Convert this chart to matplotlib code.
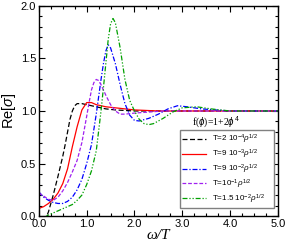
import numpy as np
import matplotlib
matplotlib.use("Agg")
import matplotlib.pyplot as plt
from matplotlib.ticker import MultipleLocator, FormatStrFormatter

plt.rcParams['font.family'] = ['Liberation Sans', 'DejaVu Sans']
plt.rcParams['mathtext.fontset'] = 'custom'
plt.rcParams['mathtext.rm'] = 'Liberation Sans'
plt.rcParams['mathtext.it'] = 'Liberation Sans:italic'

# curves: omega/T vs Re[sigma]
w_black = [0.12, 0.2, 0.3, 0.4, 0.5, 0.55, 0.6, 0.65, 0.7, 0.75, 0.8, 0.9, 1.0, 1.1, 1.2, 1.4, 1.6, 2.0, 3.0, 4.0, 5.0]
s_black = [-0.05, 0.04, 0.2, 0.38, 0.57, 0.68, 0.8, 0.92, 1.0, 1.05, 1.07, 1.07, 1.06, 1.05, 1.04, 1.02, 1.01, 1.0, 1.0, 1.0, 1.0]

w_red = [0, 0.1, 0.2, 0.3, 0.4, 0.5, 0.6, 0.7, 0.8, 0.9, 1.0, 1.1, 1.2, 1.4, 1.6, 2.0, 2.5, 3, 4, 5]
s_red = [0.073, 0.09, 0.12, 0.16, 0.22, 0.31, 0.45, 0.66, 0.85, 1.01, 1.08, 1.08, 1.06, 1.04, 1.03, 1.01, 1.0, 1.0, 1.0, 1.0]

w_blue = [0, 0.1, 0.2, 0.3, 0.4, 0.5, 0.6, 0.7, 0.8, 0.9, 1.0, 1.1, 1.2, 1.3, 1.35, 1.4, 1.45, 1.5, 1.6, 1.7, 1.8,
          1.9, 2.0, 2.1, 2.3, 2.5, 2.7, 2.9, 3.1, 3.4, 4, 5]
s_blue = [0.23, 0.18, 0.15, 0.13, 0.12, 0.12, 0.14, 0.18, 0.25, 0.35, 0.5, 0.68, 0.97, 1.3, 1.45, 1.57, 1.63, 1.6, 1.45,
          1.25, 1.07, 0.96, 0.91, 0.905, 0.93, 0.97, 1.02, 1.05, 1.04, 1.02, 1.0, 1.0]

w_purple = [0, 0.1, 0.2, 0.3, 0.4, 0.5, 0.6, 0.7, 0.8, 0.9, 1.0, 1.05, 1.1, 1.15, 1.2, 1.25, 1.3, 1.4, 1.5, 1.6, 1.7,
            1.8, 2.0, 2.3, 2.6, 3, 4, 5]
s_purple = [0.22, 0.19, 0.16, 0.15, 0.18, 0.24, 0.32, 0.42, 0.53, 0.7, 0.95, 1.08, 1.2, 1.27, 1.30, 1.29, 1.25, 1.15,
            1.06, 1.0, 0.97, 0.97, 0.98, 0.99, 1.0, 1.0, 1.0, 1.0]

w_green = [0.12, 0.2, 0.3, 0.4, 0.5, 0.6, 0.7, 0.8, 0.9, 1.0, 1.1, 1.2, 1.3, 1.35, 1.4, 1.45, 1.5, 1.55, 1.6, 1.7,
           1.8, 1.9, 2.0, 2.1, 2.2, 2.3, 2.4, 2.6, 2.8, 3.0, 3.3, 3.6, 4.0, 5.0]
s_green = [-0.01, 0.01, 0.03, 0.05, 0.07, 0.09, 0.11, 0.15, 0.2, 0.3, 0.43, 0.62, 1.0, 1.22, 1.45, 1.68, 1.83, 1.88,
           1.84, 1.6, 1.3, 1.1, 1.0, 0.92, 0.88, 0.87, 0.88, 0.93, 0.99, 1.03, 1.04, 1.02, 1.0, 1.0]

labels = [r'T=2 10$^{-4}$$\rho^{1/2}$',
          r'T=9 10$^{-3}$$\rho^{1/2}$',
          r'T=9 10$^{-2}$$\rho^{1/2}$',
          r'T=10$^{-1}$$\rho^{1/2}$',
          r'T=1.5 10$^{-2}$$\rho^{1/2}$']

fig = plt.figure(figsize=(2.88, 2.45), dpi=100)
ax = fig.add_axes([0.135, 0.118, 0.83, 0.858])

lw = 0.9
ax.plot(w_black, s_black, color='black', lw=lw, dashes=(4, 2), label=labels[0])
ax.plot(w_red, s_red, color='red', lw=lw, ls='-', label=labels[1])
ax.plot(w_blue, s_blue, color='blue', lw=lw, dashes=(4, 1.5, 1, 1.5), label=labels[2])
ax.plot(w_purple, s_purple, color='#a020f0', lw=lw, dashes=(3, 1.5), label=labels[3])
ax.plot(w_green, s_green, color='#00a000', lw=lw, dashes=(4, 1.5, 1, 1.5, 1, 1.5), label=labels[4])

ax.set_xlim(0, 5)
ax.set_ylim(0, 2)
ax.xaxis.set_major_locator(MultipleLocator(1.0))
ax.xaxis.set_minor_locator(MultipleLocator(0.25))
ax.yaxis.set_major_locator(MultipleLocator(0.5))
ax.yaxis.set_minor_locator(MultipleLocator(0.1))
ax.xaxis.set_major_formatter(FormatStrFormatter('%.1f'))
ax.yaxis.set_major_formatter(FormatStrFormatter('%.1f'))
ax.tick_params(which='both', direction='in', top=True, right=True, labelsize=8, pad=2, width=0.8)
ax.tick_params(which='major', length=4)
ax.tick_params(which='minor', length=2)
for sp in ax.spines.values():
    sp.set_linewidth(1.0)

ax.set_xlabel('ω/T', fontsize=11, family='Liberation Serif', style='italic', labelpad=0)
ax.set_ylabel(r'Re[$\sigma$]', fontsize=10.5, labelpad=2)

ax.text(3.2, 0.86, r'f($\phi$)=1+2$\phi^4$', fontsize=7, family='Liberation Serif')

leg = ax.legend(loc='lower left', bbox_to_anchor=(0.59, 0.038, 0.393, 0.362), mode='expand',
                fontsize=5.8, handlelength=3.0, handletextpad=0.7, borderpad=0.3,
                labelspacing=0.2, fancybox=False, framealpha=1, borderaxespad=0)
leg.get_frame().set_edgecolor('gray')
leg.get_frame().set_linewidth(1.0)

fig.savefig('out.png', dpi=100)
